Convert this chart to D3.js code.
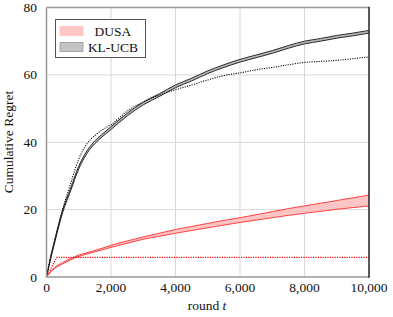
<!DOCTYPE html>
<html>
<head>
<meta charset="utf-8">
<script src="https://cdn.jsdelivr.net/npm/d3@7"></script>
<style>
  body { margin: 0; background: #fff; }
  svg { display: block; font-family: "Liberation Serif", "DejaVu Serif", serif; }
</style>
</head>
<body>
<svg id="chart" width="393" height="317"></svg>
<script>
// rounds at which the curves were sampled
var rounds = [0, 100, 250, 500, 750, 1000, 1250, 1500, 1750, 2000, 2500, 3000, 3500, 4000,
  4500, 5000, 5500, 6000, 6500, 7000, 7500, 8000, 8500, 9000, 9500, 10000];

// KL-UCB confidence band and its dotted companion
var klLow  = [0, 4.2, 10.1, 19.1, 25.6, 32.1, 36.6, 39.6, 41.8, 43.8, 47.8, 51.1, 53.6, 56.2,
  58.2, 60.4, 62.2, 63.8, 65.1, 66.4, 67.9, 69.2, 70.0, 70.9, 71.6, 72.4];
var klHigh = [0, 4.8, 10.9, 19.9, 26.4, 32.9, 37.4, 40.4, 42.6, 44.6, 48.6, 51.9, 54.4, 57.0,
  59.0, 61.2, 63.0, 64.6, 65.9, 67.2, 68.7, 70.0, 70.8, 71.7, 72.4, 73.2];
var klDotted = [0, 4.5, 10.5, 20, 27.8, 35, 39.5, 42, 43.8, 45.2, 49.2, 52, 54, 55.6,
  57, 58.5, 59.8, 60.6, 61.5, 62.2, 63, 63.7, 64, 64.3, 64.8, 65.3];

// DUSA confidence band
var dusaLow  = [0, 1.2, 2.5, 3.9, 5.1, 6.1, 6.8, 7.5, 8.1, 8.8, 10, 11.2, 12.1, 13,
  13.8, 14.6, 15.4, 16.2, 16.9, 17.6, 18.3, 18.9, 19.5, 20.1, 20.6, 21.1];
var dusaHigh = [0, 1.4, 2.8, 4.3, 5.5, 6.5, 7.2, 7.9, 8.6, 9.4, 10.7, 11.9, 13, 14.1,
  15, 15.9, 16.8, 17.6, 18.5, 19.4, 20.3, 21.1, 21.9, 22.7, 23.5, 24.3];

// red dotted reference line
var dusaDottedRounds = [0, 320, 10000];
var dusaDotted = [0, 5.85, 5.85];

var xTicks = [0, 2000, 4000, 6000, 8000, 10000];
var yTicks = [0, 20, 40, 60, 80];
var legendNames = ['DUSA', 'KL-UCB'];

(function () {
  var svg = d3.select('#chart');
  // plot box edges
  var L = 46.5, R = 369, T = 7.5, B = 277;

  var x = d3.scaleLinear().domain([0, 10000]).range([L, R]);
  var y = d3.scaleLinear().domain([0, 80]).range([B, T]);

  // grid
  var grid = svg.append('g');
  grid.selectAll('.gx').data(xTicks.slice(1, -1)).enter().append('line')
    .attr('x1', x).attr('x2', x).attr('y1', T).attr('y2', B)
    .attr('stroke', '#d8d8d8').attr('stroke-width', 1);
  grid.selectAll('.gy').data(yTicks.slice(1, -1)).enter().append('line')
    .attr('y1', y).attr('y2', y).attr('x1', L).attr('x2', R)
    .attr('stroke', '#d8d8d8').attr('stroke-width', 1);

  var pts = function (vals, ts) {
    return vals.map(function (v, i) { return [(ts || rounds)[i], v]; });
  };

  var line = d3.line().x(function (d) { return x(d[0]); }).y(function (d) { return y(d[1]); })
    .curve(d3.curveMonotoneX);
  var area = d3.area().x(function (d, i) { return x(rounds[i]); })
    .y0(function (d) { return y(d[0]); }).y1(function (d) { return y(d[1]); })
    .curve(d3.curveMonotoneX);

  var plot = svg.append('g');

  function band(lo, hi, fill, stroke) {
    plot.append('path').datum(lo.map(function (v, i) { return [v, hi[i]]; }))
      .attr('d', area).attr('fill', fill);
    [lo, hi].forEach(function (s) {
      plot.append('path').datum(pts(s)).attr('d', line)
        .attr('fill', 'none').attr('stroke', stroke).attr('stroke-width', 1);
    });
  }

  band(klLow, klHigh, '#b8b8b8', '#2a2a2a');
  plot.append('path').datum(pts(klDotted)).attr('d', line)
    .attr('fill', 'none').attr('stroke', '#000').attr('stroke-width', 1.1)
    .attr('stroke-dasharray', '1.1,1.3');

  band(dusaLow, dusaHigh, '#ffc4c4', '#ff4040');
  plot.append('path').datum(pts(dusaDotted, dusaDottedRounds))
    .attr('d', d3.line().x(function (d) { return x(d[0]); }).y(function (d) { return y(d[1]); }))
    .attr('fill', 'none').attr('stroke', '#ff0000').attr('stroke-width', 1.2)
    .attr('stroke-dasharray', '1.2,1.2');

  // frame: gray left/top/bottom, dark right
  svg.append('line').attr('x1', L).attr('x2', L).attr('y1', T).attr('y2', B)
    .attr('stroke', '#999').attr('stroke-width', 1.5);
  svg.append('line').attr('x1', L).attr('x2', R).attr('y1', T).attr('y2', T)
    .attr('stroke', '#999').attr('stroke-width', 1.5);
  svg.append('line').attr('x1', L - 0.75).attr('x2', R).attr('y1', B).attr('y2', B)
    .attr('stroke', '#999').attr('stroke-width', 1.5);
  svg.append('line').attr('x1', R).attr('x2', R).attr('y1', T - 0.75).attr('y2', B + 0.75)
    .attr('stroke', '#222').attr('stroke-width', 1.5);

  // tick labels
  svg.append('g').selectAll('text').data(xTicks).enter().append('text')
    .attr('x', x).attr('y', 292).attr('text-anchor', 'middle')
    .attr('font-size', 13.5).attr('fill', '#111')
    .text(d3.format(','));
  svg.append('g').selectAll('text').data(yTicks).enter().append('text')
    .attr('x', 37).attr('y', function (d) { return y(d) + 4.5; }).attr('text-anchor', 'end')
    .attr('font-size', 13.5).attr('fill', '#111')
    .text(function (d) { return d; });

  // axis titles
  var xt = svg.append('text').attr('x', 207).attr('y', 310).attr('text-anchor', 'middle')
    .attr('font-size', 13.5).attr('fill', '#111');
  xt.append('tspan').text('round ');
  xt.append('tspan').attr('font-style', 'italic').text('t');
  svg.append('text').attr('transform', 'translate(13,142) rotate(-90)')
    .attr('text-anchor', 'middle').attr('font-size', 13.5).attr('fill', '#111')
    .text('Cumulative Regret');

  // legend
  var legend = svg.append('g');
  legend.append('rect').attr('x', 55.5).attr('y', 19.5).attr('width', 90).attr('height', 38)
    .attr('fill', '#fff').attr('stroke', '#555').attr('stroke-width', 1);
  var swatches = [['#ffc4c4', '#ffc4c4'], ['#c4c4c4', '#999']];
  legendNames.forEach(function (name, i) {
    var cy = 31 + i * 16;
    legend.append('rect').attr('x', 60).attr('y', cy - 4.5).attr('width', 23).attr('height', 9)
      .attr('fill', swatches[i][0]).attr('stroke', swatches[i][1]).attr('stroke-width', 0.8);
    legend.append('text').attr('x', 113).attr('y', cy + 4.5).attr('text-anchor', 'middle')
      .attr('font-size', 13.5).attr('fill', '#111').text(name);
  });
})();
</script>
</body>
</html>
